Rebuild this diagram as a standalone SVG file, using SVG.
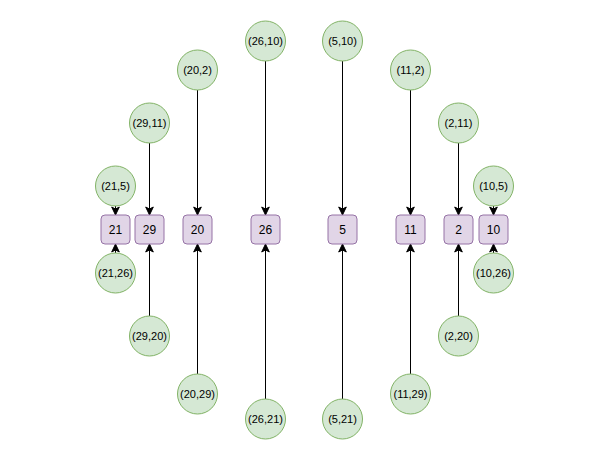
<svg xmlns="http://www.w3.org/2000/svg" width="600" height="456" viewBox="0 0 600 456">
<defs>
<style>
.c{fill:#d5e8d4;stroke:#82b366;stroke-width:1}
.s{fill:#e1d5e7;stroke:#9673a6;stroke-width:1}
.t{font-family:"Liberation Sans",Arial,sans-serif;font-size:11px;fill:#000;text-anchor:middle;dominant-baseline:central}
.q{font-family:"Liberation Sans",Arial,sans-serif;font-size:12px;fill:#000;text-anchor:middle;dominant-baseline:central}
.e{stroke:#000;stroke-width:1;fill:none;marker-end:url(#a)}
</style>
<marker id="a" markerUnits="userSpaceOnUse" markerWidth="10" markerHeight="10" viewBox="0 0 10 10" refX="9" refY="5" orient="auto">
<path d="M1,1.2 L9,5 L1,8.8 L3,5 Z" fill="#000" stroke="#000" stroke-width="1"/>
</marker>
</defs>
<rect width="600" height="456" fill="#fff"/>
<g id="connectors">
<line class="e" x1="115.5" y1="206" x2="115.5" y2="215"/>
<line class="e" x1="115.5" y1="253" x2="115.5" y2="244"/>
<line class="e" x1="149.5" y1="143" x2="149.5" y2="215"/>
<line class="e" x1="149.5" y1="316" x2="149.5" y2="244"/>
<line class="e" x1="197.5" y1="90" x2="197.5" y2="215"/>
<line class="e" x1="197.5" y1="374" x2="197.5" y2="244"/>
<line class="e" x1="265.5" y1="61" x2="265.5" y2="215"/>
<line class="e" x1="265.5" y1="399" x2="265.5" y2="244"/>
<line class="e" x1="342.5" y1="61" x2="342.5" y2="215"/>
<line class="e" x1="342.5" y1="399" x2="342.5" y2="244"/>
<line class="e" x1="410.5" y1="90" x2="410.5" y2="215"/>
<line class="e" x1="410.5" y1="374" x2="410.5" y2="244"/>
<line class="e" x1="458.5" y1="143" x2="458.5" y2="215"/>
<line class="e" x1="458.5" y1="316" x2="458.5" y2="244"/>
<line class="e" x1="493.5" y1="206" x2="493.5" y2="215"/>
<line class="e" x1="493.5" y1="253" x2="493.5" y2="244"/>
</g>
<g id="n21"><rect class="s" x="101" y="215" width="29" height="29" rx="4"/><text class="q" x="115.5" y="229.5">21</text></g>
<g id="n29"><rect class="s" x="135" y="215" width="29" height="29" rx="4"/><text class="q" x="149.5" y="229.5">29</text></g>
<g id="n20"><rect class="s" x="183" y="215" width="29" height="29" rx="4"/><text class="q" x="197.5" y="229.5">20</text></g>
<g id="n26"><rect class="s" x="251" y="215" width="29" height="29" rx="4"/><text class="q" x="265.5" y="229.5">26</text></g>
<g id="n5"><rect class="s" x="328" y="215" width="29" height="29" rx="4"/><text class="q" x="342.5" y="229.5">5</text></g>
<g id="n11"><rect class="s" x="396" y="215" width="29" height="29" rx="4"/><text class="q" x="410.5" y="229.5">11</text></g>
<g id="n2"><rect class="s" x="444" y="215" width="29" height="29" rx="4"/><text class="q" x="458.5" y="229.5">2</text></g>
<g id="n10"><rect class="s" x="479" y="215" width="29" height="29" rx="4"/><text class="q" x="493.5" y="229.5">10</text></g>
<g id="c21_5"><circle class="c" cx="115.5" cy="186" r="20"/><text class="t" x="115.5" y="186">(21,5)</text></g>
<g id="c21_26"><circle class="c" cx="115.5" cy="273" r="20"/><text class="t" x="115.5" y="273">(21,26)</text></g>
<g id="c29_11"><circle class="c" cx="149.5" cy="123" r="20"/><text class="t" x="149.5" y="123">(29,11)</text></g>
<g id="c29_20"><circle class="c" cx="149.5" cy="336" r="20"/><text class="t" x="149.5" y="336">(29,20)</text></g>
<g id="c20_2"><circle class="c" cx="197.5" cy="70" r="20"/><text class="t" x="197.5" y="70">(20,2)</text></g>
<g id="c20_29"><circle class="c" cx="197.5" cy="394" r="20"/><text class="t" x="197.5" y="394">(20,29)</text></g>
<g id="c26_10"><circle class="c" cx="265.5" cy="41" r="20"/><text class="t" x="265.5" y="41">(26,10)</text></g>
<g id="c26_21"><circle class="c" cx="265.5" cy="419" r="20"/><text class="t" x="265.5" y="419">(26,21)</text></g>
<g id="c5_10"><circle class="c" cx="342.5" cy="41" r="20"/><text class="t" x="342.5" y="41">(5,10)</text></g>
<g id="c5_21"><circle class="c" cx="342.5" cy="419" r="20"/><text class="t" x="342.5" y="419">(5,21)</text></g>
<g id="c11_2"><circle class="c" cx="410.5" cy="70" r="20"/><text class="t" x="410.5" y="70">(11,2)</text></g>
<g id="c11_29"><circle class="c" cx="410.5" cy="394" r="20"/><text class="t" x="410.5" y="394">(11,29)</text></g>
<g id="c2_11"><circle class="c" cx="458.5" cy="123" r="20"/><text class="t" x="458.5" y="123">(2,11)</text></g>
<g id="c2_20"><circle class="c" cx="458.5" cy="336" r="20"/><text class="t" x="458.5" y="336">(2,20)</text></g>
<g id="c10_5"><circle class="c" cx="493.5" cy="186" r="20"/><text class="t" x="493.5" y="186">(10,5)</text></g>
<g id="c10_26"><circle class="c" cx="493.5" cy="273" r="20"/><text class="t" x="493.5" y="273">(10,26)</text></g>
</svg>
